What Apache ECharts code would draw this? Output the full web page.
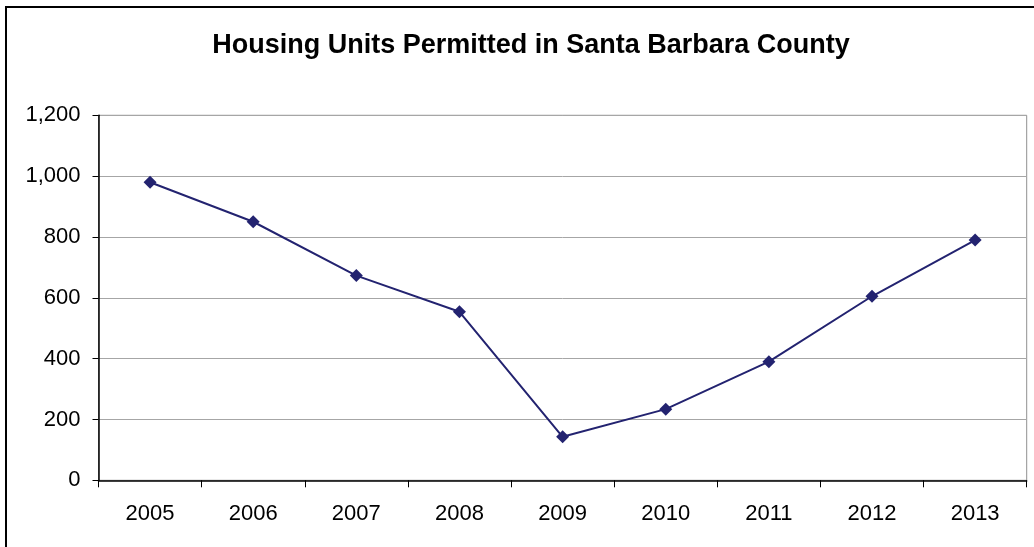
<!DOCTYPE html>
<html>
<head>
<meta charset="utf-8">
<script src="https://cdn.jsdelivr.net/npm/echarts@6/dist/echarts.min.js"></script>
<style>
  html, body { margin: 0; padding: 0; background: #fff; }
  #chart { width: 1034px; height: 547px; }
</style>
</head>
<body>
<div id="chart"></div>
<script>
// Housing units permitted per year
const years = ['2005', '2006', '2007', '2008', '2009', '2010', '2011', '2012', '2013'];
const unitsPermitted = [980, 850, 673, 554, 143, 234, 390, 605, 790];
const yTicks = { min: 0, max: 1200, interval: 200 };

const chart = echarts.init(document.getElementById('chart'), null, { renderer: 'canvas' });

chart.setOption({
  backgroundColor: '#ffffff',
  animation: false,
  title: {
    text: 'Housing Units Permitted in Santa Barbara County',
    left: 526,
    top: 27,
    textAlign: 'center',
    textStyle: {
      fontFamily: 'Liberation Sans, Arial, sans-serif',
      fontSize: 27,
      fontWeight: 'bold',
      color: '#000'
    }
  },
  graphic: [{
    type: 'rect',
    z: 100,
    silent: true,
    shape: { x: 6, y: 7, width: 1100, height: 620 },
    style: { fill: 'none', stroke: '#000', lineWidth: 2 }
  }],
  grid: {
    left: 98.5,
    right: 7.3,
    top: 115.3,
    bottom: 66.7,
    show: true,
    borderColor: '#909090',
    borderWidth: 1,
    backgroundColor: 'transparent'
  },
  xAxis: {
    type: 'category',
    data: years,
    boundaryGap: true,
    axisLine: { show: true, lineStyle: { color: '#000', width: 1.5 } },
    axisTick: { show: true, alignWithLabel: false, length: 7, lineStyle: { color: '#000', width: 1 } },
    axisLabel: {
      margin: 23,
      fontFamily: 'Liberation Sans, Arial, sans-serif',
      fontSize: 22,
      color: '#000'
    },
    splitLine: { show: false }
  },
  yAxis: {
    type: 'value',
    min: yTicks.min,
    max: yTicks.max,
    interval: yTicks.interval,
    axisLine: { show: true, lineStyle: { color: '#000', width: 1.5 } },
    axisTick: { show: true, length: 6, lineStyle: { color: '#000', width: 1 } },
    axisLabel: {
      margin: 18,
      fontFamily: 'Liberation Sans, Arial, sans-serif',
      fontSize: 22,
      color: '#000',
      formatter: v => v.toLocaleString('en-US')
    },
    splitLine: { show: true, lineStyle: { color: '#a6a6a6', width: 1 } }
  },
  series: [{
    type: 'line',
    data: unitsPermitted,
    symbol: 'diamond',
    symbolSize: 13,
    lineStyle: { color: '#232370', width: 2 },
    itemStyle: { color: '#232370' }
  }]
});
</script>
</body>
</html>
